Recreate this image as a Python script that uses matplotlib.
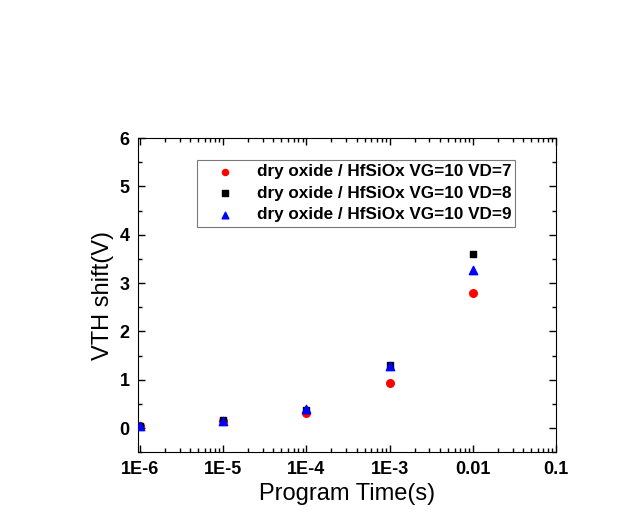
import matplotlib
matplotlib.use('Agg')
import matplotlib.pyplot as plt
from matplotlib.ticker import FixedLocator, FixedFormatter, LogLocator, MultipleLocator, NullFormatter

plt.rcParams['font.family'] = ['Liberation Sans', 'DejaVu Sans']

time = [1e-6, 1e-5, 1e-4, 1e-3, 1e-2]
vd7 = [0.04, 0.15, 0.31, 0.94, 2.79]
vd8 = [0.05, 0.16, 0.38, 1.30, 3.60]
vd9 = [0.04, 0.15, 0.40, 1.28, 3.27]
labels = ['dry oxide / HfSiOx VG=10 VD=7',
          'dry oxide / HfSiOx VG=10 VD=8',
          'dry oxide / HfSiOx VG=10 VD=9']
xticks = [1e-6, 1e-5, 1e-4, 1e-3, 1e-2, 1e-1]
xticklabels = ['1E-6', '1E-5', '1E-4', '1E-3', '0.01', '0.1']

fig = plt.figure(figsize=(6.3, 5.15), dpi=100)
ax = fig.add_axes([0.219, 0.122, 0.664, 0.610])

ax.scatter(time, vd7, marker='o', s=30, color='red', label=labels[0], zorder=3)
ax.scatter(time, vd8, marker='s', s=22, color='black', label=labels[1], zorder=3)
ax.scatter(time, vd9, marker='^', s=36, color='blue', label=labels[2], zorder=4)

ax.set_xscale('log')
ax.set_xlim(0.95e-6, 0.1)
ax.set_ylim(-0.5, 6)
ax.xaxis.set_major_locator(FixedLocator(xticks))
ax.xaxis.set_major_formatter(FixedFormatter(xticklabels))
ax.xaxis.set_minor_locator(LogLocator(base=10, subs=range(2, 10), numticks=20))
ax.xaxis.set_minor_formatter(NullFormatter())
ax.yaxis.set_major_locator(MultipleLocator(1))
ax.yaxis.set_minor_locator(MultipleLocator(0.5))

ax.tick_params(which='both', direction='in', top=True, right=True, width=1)
ax.tick_params(which='major', length=5, labelsize=13, pad=6)
ax.tick_params(which='minor', length=3)
for lab in ax.get_xticklabels() + ax.get_yticklabels():
    lab.set_fontweight('bold')

ax.set_xlabel('Program Time(s)', fontsize=17)
ax.set_ylabel('VTH shift(V)', fontsize=17)

leg = ax.legend(loc='upper left', bbox_to_anchor=(0.12, 0.957),
                prop={'weight': 'bold', 'size': 12.3}, frameon=True, fancybox=False,
                markerscale=0.8, handletextpad=0.4, borderpad=0.25,
                labelspacing=0.38, handlelength=2.85)
leg.get_frame().set_edgecolor('0.35')
leg.get_frame().set_linewidth(0.8)

fig.savefig('out.png', dpi=100)
